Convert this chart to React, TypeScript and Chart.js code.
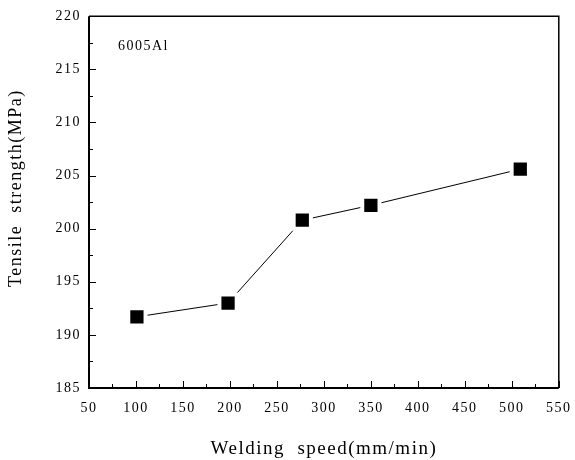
import React, { useEffect, useRef } from "react";
import { Chart, registerables } from "chart.js";

Chart.register(...registerables);

const weldingSpeed = [101, 198, 277, 350, 509];
const tensileStrength = [191.7, 193.0, 200.8, 202.2, 205.6];
const xTickValues = [50, 100, 150, 200, 250, 300, 350, 400, 450, 500, 550];
const yTickValues = [185, 190, 195, 200, 205, 210, 215, 220];
const alloyLabel = "6005Al";
const xTitle = "Welding  speed(mm/min)";
const yTitle = "Tensile  strength(MPa)";

const FONT = "Liberation Serif, Times New Roman, serif";

const framePlugin = {
  id: "frame",
  beforeDraw(chart: any) {
    (chart.ctx as any).letterSpacing = "1.5px";
  },
  afterDraw(chart: any) {
    const { ctx, chartArea, scales } = chart;
    const { left, right, top, bottom } = chartArea;
    const xs = scales.x;
    const ys = scales.y;
    ctx.save();
    ctx.strokeStyle = "#000";
    ctx.lineWidth = 1;
    ctx.beginPath();
    for (let i = 0; i < xTickValues.length; i++) {
      const v = xTickValues[i];
      const px = Math.round(xs.getPixelForValue(v)) + 0.5;
      ctx.moveTo(px, bottom);
      ctx.lineTo(px, bottom - 7);
      if (i < xTickValues.length - 1) {
        const mv = (v + xTickValues[i + 1]) / 2;
        const mpx = Math.round(xs.getPixelForValue(mv)) + 0.5;
        ctx.moveTo(mpx, bottom);
        ctx.lineTo(mpx, bottom - 4);
      }
    }
    for (let i = 0; i < yTickValues.length; i++) {
      const v = yTickValues[i];
      const py = Math.round(ys.getPixelForValue(v)) + 0.5;
      ctx.moveTo(left, py);
      ctx.lineTo(left + 7, py);
      if (i < yTickValues.length - 1) {
        const mv = (v + yTickValues[i + 1]) / 2;
        const mpy = Math.round(ys.getPixelForValue(mv)) + 0.5;
        ctx.moveTo(left, mpy);
        ctx.lineTo(left + 4, mpy);
      }
    }
    ctx.stroke();
    ctx.lineWidth = 1.5;
    ctx.beginPath();
    ctx.moveTo(left, top);
    ctx.lineTo(right, top);
    ctx.lineTo(right, bottom);
    ctx.stroke();
    ctx.lineWidth = 2;
    ctx.beginPath();
    ctx.moveTo(left, top);
    ctx.lineTo(left, bottom);
    ctx.lineTo(right, bottom);
    ctx.stroke();
    ctx.fillStyle = "#000";
    ctx.font = `14px ${FONT}`;
    ctx.textAlign = "left";
    ctx.textBaseline = "middle";
    ctx.fillText(alloyLabel, left + 29, top + 30);
    // y-axis title
    ctx.font = `18px ${FONT}`;
    ctx.translate(left - 68, top + 172);
    ctx.rotate(-Math.PI / 2);
    ctx.textAlign = "center";
    ctx.textBaseline = "alphabetic";
    ctx.fillText(yTitle, 0, 0);
    ctx.restore();
  },
};

export default function App() {
  const canvasRef = useRef<HTMLCanvasElement | null>(null);

  useEffect(() => {
    document.body.style.margin = "0";
    const canvas = canvasRef.current;
    if (!canvas) return;
    const chart = new Chart(canvas, {
      type: "scatter",
      data: {
        datasets: [
          {
            data: weldingSpeed.map((x, i) => ({ x, y: tensileStrength[i] })),
            showLine: true,
            borderColor: "#000",
            borderWidth: 1,
            pointStyle: "rect",
            pointRadius: 12.2,
            pointBackgroundColor: "#000",
            pointBorderColor: "#fff",
            pointBorderWidth: 4,
          },
        ],
      },
      options: {
        animation: false,
        responsive: false,
        events: [],
        layout: { padding: { left: 0, right: 7, top: 13, bottom: 0 } },
        plugins: {
          legend: { display: false },
          tooltip: { enabled: false },
        },
        scales: {
          x: {
            type: "linear",
            min: 50,
            max: 550,
            grid: { display: false, drawTicks: false },
            border: { display: false },
            afterBuildTicks: (scale: any) => {
              scale.ticks = xTickValues.map((value) => ({ value }));
            },
            ticks: {
              padding: 12,
              color: "#000",
              font: { family: FONT, size: 14 },
              maxRotation: 0,
              autoSkip: false,
            },
            title: {
              display: true,
              text: xTitle,
              color: "#000",
              font: { family: FONT, size: 19 },
              padding: { top: 0, bottom: 0 },
            },
            afterFit: (scale: any) => {
              scale.height = 72;
              scale.paddingLeft = 0;
              scale.paddingRight = 0;
            },
          },
          y: {
            type: "linear",
            min: 185,
            max: 220,
            grid: { display: false, drawTicks: false },
            border: { display: false },
            afterBuildTicks: (scale: any) => {
              scale.ticks = yTickValues.map((value) => ({ value }));
            },
            ticks: {
              padding: 8,
              color: "#000",
              font: { family: FONT, size: 14 },
              autoSkip: false,
            },
            title: { display: false, text: yTitle },
            afterFit: (scale: any) => {
              scale.width = 89;
              scale.paddingTop = 0;
              scale.paddingBottom = 0;
            },
          },
        },
      },
      plugins: [framePlugin],
    });
    let alive = true;
    if ((document as any).fonts && (document as any).fonts.ready) {
      (document as any).fonts.ready.then(() => {
        if (alive) chart.update();
      });
    }
    return () => {
      alive = false;
      chart.destroy();
    };
  }, []);

  return (
    <div style={{ width: 575, height: 460, position: "relative" }}>
      <span
        style={{
          fontFamily: FONT,
          position: "absolute",
          left: 0,
          top: 0,
          fontSize: 14,
          opacity: 0,
          pointerEvents: "none",
        }}
      >
        {alloyLabel}
      </span>
      <canvas ref={canvasRef} width={575} height={460} style={{ display: "block", position: "relative" }} />
    </div>
  );
}
